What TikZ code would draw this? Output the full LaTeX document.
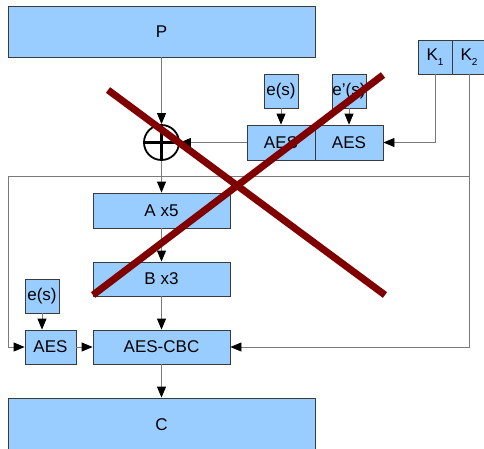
\documentclass[tikz,border=0pt]{standalone}
\usepackage{fontspec}
\setmainfont{Liberation Sans}
\usetikzlibrary{arrows.meta}
\definecolor{boxfill}{HTML}{99CCFF}
\definecolor{boxline}{HTML}{3A3A3A}
\definecolor{connline}{HTML}{7A7A7A}
\definecolor{crossred}{HTML}{800000}
\newcommand{\ksub}[1]{\raisebox{-5pt}{\fontsize{10}{10}\selectfont #1}}
\begin{document}
\begin{tikzpicture}[x=1pt,y=-1pt,
  blk/.style={draw=boxline,fill=boxfill,line width=0.8pt,inner sep=0pt,
    font=\fontsize{17}{19}\selectfont,anchor=center},
  conn/.style={draw=connline,line width=0.8pt,
    -{Triangle[length=11pt,width=9pt,fill=black,color=black]}},
  cross/.style={draw=crossred,line width=7pt}]
\useasboundingbox (0,0) rectangle (484,448);
% boxes
\node[blk,minimum width=307pt,minimum height=51pt] (P) at (161.5,31.5) {P};
\node[blk,minimum width=34pt,minimum height=34pt] (K1) at (435,57) {K\ksub{1}};
\node[blk,minimum width=34pt,minimum height=34pt] (K2) at (469,57) {K\ksub{2}};
\node[blk,minimum width=34pt,minimum height=34pt] (es1) at (281,91) {e(s)};
\node[blk,minimum width=34pt,minimum height=34pt] (es2) at (349,91) {e'(s)};
\node[blk,minimum width=68pt,minimum height=35pt] (aes1) at (281,142.5) {AES};
\node[blk,minimum width=68pt,minimum height=35pt] (aes2) at (349,142.5) {AES};
\node[draw=black,line width=1.8pt,circle,minimum size=35pt,inner sep=0pt,fill=white] (xor) at (161.5,142.5) {};
\draw[line width=3pt] (xor.west) -- (xor.east) (xor.north) -- (xor.south);
\node[blk,minimum width=137pt,minimum height=35pt] (A) at (161.5,210.5) {A x5};
\node[blk,minimum width=137pt,minimum height=34pt] (B) at (161.5,279) {B x3};
\node[blk,minimum width=34pt,minimum height=34pt] (es3) at (42,296) {e(s)};
\node[blk,minimum width=51pt,minimum height=34pt] (aes3) at (50.5,347) {AES};
\node[blk,minimum width=137pt,minimum height=34pt] (cbc) at (161.5,347) {AES-CBC};
\node[blk,minimum width=307pt,minimum height=54pt] (C) at (161.5,425) {C};
% junctions
\coordinate (j1) at (469,176);
\coordinate (j2) at (8,176);
% connectors
\draw[conn] (P.south) -- (xor.north);
\draw[conn] (aes1.west) -- (xor.east);
\draw[conn] (es1.south) -- (aes1.north);
\draw[conn] (es2.south) -- (aes2.north);
\draw[conn] (K1.south) |- (aes2.east);
\draw[conn] (K2.south) |- (cbc.east);
\draw[conn] (j1) -- (j2) |- (aes3.west);
\draw[conn] (xor.south) -- (A.north);
\draw[conn] (A.south) -- (B.north);
\draw[conn] (B.south) -- (cbc.north);
\draw[conn] (es3.south) -- (es3.south |- aes3.north);
\draw[conn] (aes3.east) -- (cbc.west);
\draw[conn] (cbc.south) -- (C.north);
% red cross
\coordinate (x1a) at (108,90);
\coordinate (x1b) at (385,295);
\coordinate (x2a) at (383,75);
\coordinate (x2b) at (93,295);
\draw[cross] (x1a) -- (x1b);
\draw[cross] (x2a) -- (x2b);
\end{tikzpicture}
\end{document}
